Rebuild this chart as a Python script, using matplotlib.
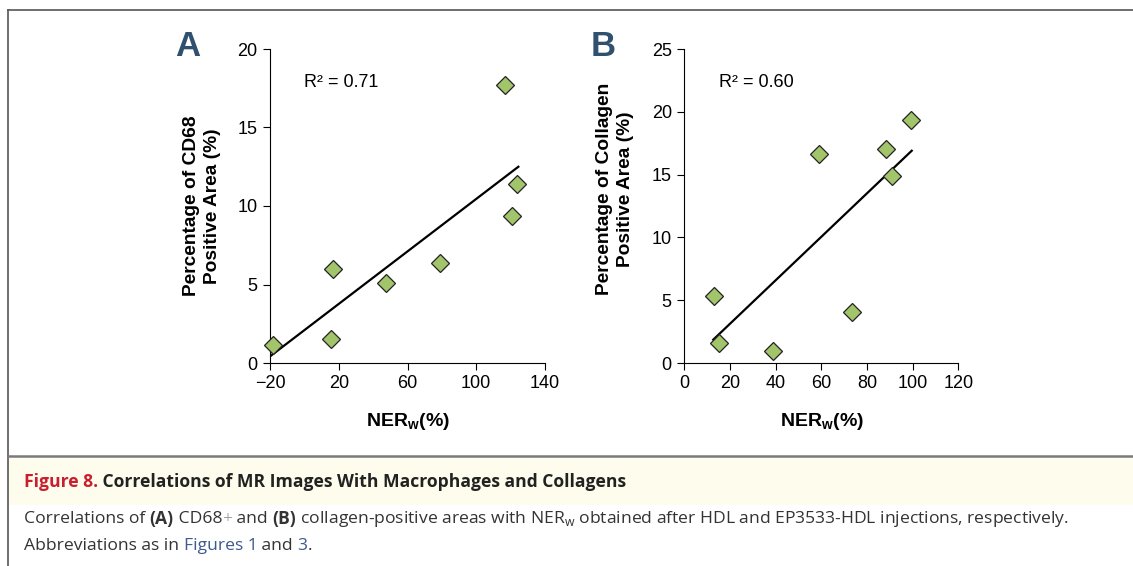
import numpy as np
import matplotlib
matplotlib.use("Agg")
import matplotlib.pyplot as plt
from matplotlib.patches import Rectangle
from matplotlib.lines import Line2D

# data
ner_a = [-18.1, 15.3, 16.9, 47.5, 78.9, 116.7, 120.6, 123.9]
cd68 = [1.15, 1.55, 5.98, 5.09, 6.4, 17.7, 9.37, 11.41]
fit_a_x = [-19.4, 124.5]
fit_a_y = [0.47, 12.5]

ner_b = [13.0, 15.3, 38.8, 59.1, 73.3, 88.5, 90.8, 99.3]
collagen = [5.36, 1.59, 0.98, 16.65, 4.03, 17.05, 14.85, 19.35]
fit_b_x = [12.7, 99.6]
fit_b_y = [1.86, 16.9]

W, H = 1133, 566
fig = plt.figure(figsize=(W / 100, H / 100), dpi=100)
fig.patch.set_facecolor("white")

axfont = "Liberation Sans"
capfont = "Open Sans"
green = "#a2c46b"


def px(x, y):
    # pixel coords (top-left origin) -> figure fraction
    return x / W, 1 - y / H


def panel(left, right, xs, ys, fx, fy, xlim, xticks, ylim, yticks, r2, letter, ylab, ylab_xy, r2_xy, letter_xy, xlab_xy):
    l, b = px(left, 363)
    r, t = px(right, 49)
    ax = fig.add_axes([l, b, r - l, t - b])
    ax.plot(fx, fy, color="black", lw=1.6, zorder=2)
    ax.plot(xs, ys, "D", ms=9.5, mfc=green, mec="#222222", mew=0.9, zorder=3, clip_on=False)
    ax.set_xlim(*xlim)
    ax.set_ylim(*ylim)
    ax.set_xticks(xticks)
    ax.set_yticks(yticks)
    ax.set_xticklabels([("\u2212%d" % -v) if v < 0 else str(v) for v in xticks])
    for s in ["top", "right"]:
        ax.spines[s].set_visible(False)
    for s in ["left", "bottom"]:
        ax.spines[s].set_linewidth(0.8)
    ax.tick_params(direction="out", length=5, width=0.8, labelsize=13, pad=4)
    for lab in ax.get_xticklabels() + ax.get_yticklabels():
        lab.set_fontfamily(axfont)
    fig.text(*px(*letter_xy), letter, fontsize=25, fontweight="bold", color="#30506f",
             family=axfont, ha="center", va="center")
    fig.text(*px(*ylab_xy), ylab, fontsize=13.8, fontweight="bold", family=axfont,
             rotation=90, ha="center", va="center", linespacing=1.25)
    fig.text(*px(*r2_xy), r2, fontsize=13, family=axfont, ha="left", va="center")
    fig.text(*px(*xlab_xy), r"NER$_\mathregular{w}$(%)", fontsize=14, fontweight="bold",
             family=axfont, ha="center", va="center")
    return ax


panel(270, 545, ner_a, cd68, fit_a_x, fit_a_y, (-20, 140), [-20, 20, 60, 100, 140],
      (0, 20), [0, 5, 10, 15, 20], "R\u00b2 = 0.71", "A",
      "Percentage of CD68\nPositive Area (%)", (202, 206), (304, 83), (188, 47), (408, 422))
panel(684.3, 958.3, ner_b, collagen, fit_b_x, fit_b_y, (0, 120), [0, 20, 40, 60, 80, 100, 120],
      (0, 25), [0, 5, 10, 15, 20, 25], "R\u00b2 = 0.60", "B",
      "Percentage of Collagen\nPositive Area (%)", (615, 189), (719, 83), (603, 47), (822, 422))

# frame lines and caption band
gray = "#7a7a7a"
fig.add_artist(Line2D([8 / W, 1], [1 - 10 / H] * 2, color="#555555", lw=1.2))
fig.add_artist(Line2D([8 / W, 8 / W], [0, 1 - 10 / H], color="#555555", lw=1.2))
fig.add_artist(Rectangle(px(9, 505), 1, 48 / H, transform=fig.transFigure,
                         facecolor="#fefcec", edgecolor="none", zorder=0))
fig.add_artist(Line2D([8 / W, 1], [1 - 455.5 / H] * 2, color=gray, lw=1.8))

fig.canvas.draw()
renderer = fig.canvas.get_renderer()


def run(pieces, x0, y):
    x = x0
    for txt, kw in pieces:
        t = fig.text(x / W, 1 - y / H, txt, family=capfont, fontsize=12.6, va="center",
                     ha="left", **kw)
        bb = t.get_window_extent(renderer)
        x += bb.width


run([("Figure 8.", dict(color="#c81e2e", fontweight="bold")),
     (" Correlations of MR Images With Macrophages and Collagens", dict(color="#222222", fontweight="bold"))],
    24, 482)
run([("Correlations of ", dict(color="#333333")),
     ("(A)", dict(color="#333333", fontweight="bold")),
     (" CD68", dict(color="#333333")),
     ("+", dict(color="#888888", fontweight="light")),
     (" and ", dict(color="#333333")),
     ("(B)", dict(color="#333333", fontweight="bold")),
     (r" collagen-positive areas with NER$_\mathregular{w}$ obtained after HDL and EP3533-HDL injections, respectively.",
      dict(color="#333333"))],
    24, 519)
run([("Abbreviations as in ", dict(color="#333333")),
     ("Figures 1", dict(color="#3d5a8c")),
     (" and ", dict(color="#333333")),
     ("3", dict(color="#3d5a8c")),
     (".", dict(color="#333333"))],
    24, 546)

fig.savefig("out.png", dpi=100)
